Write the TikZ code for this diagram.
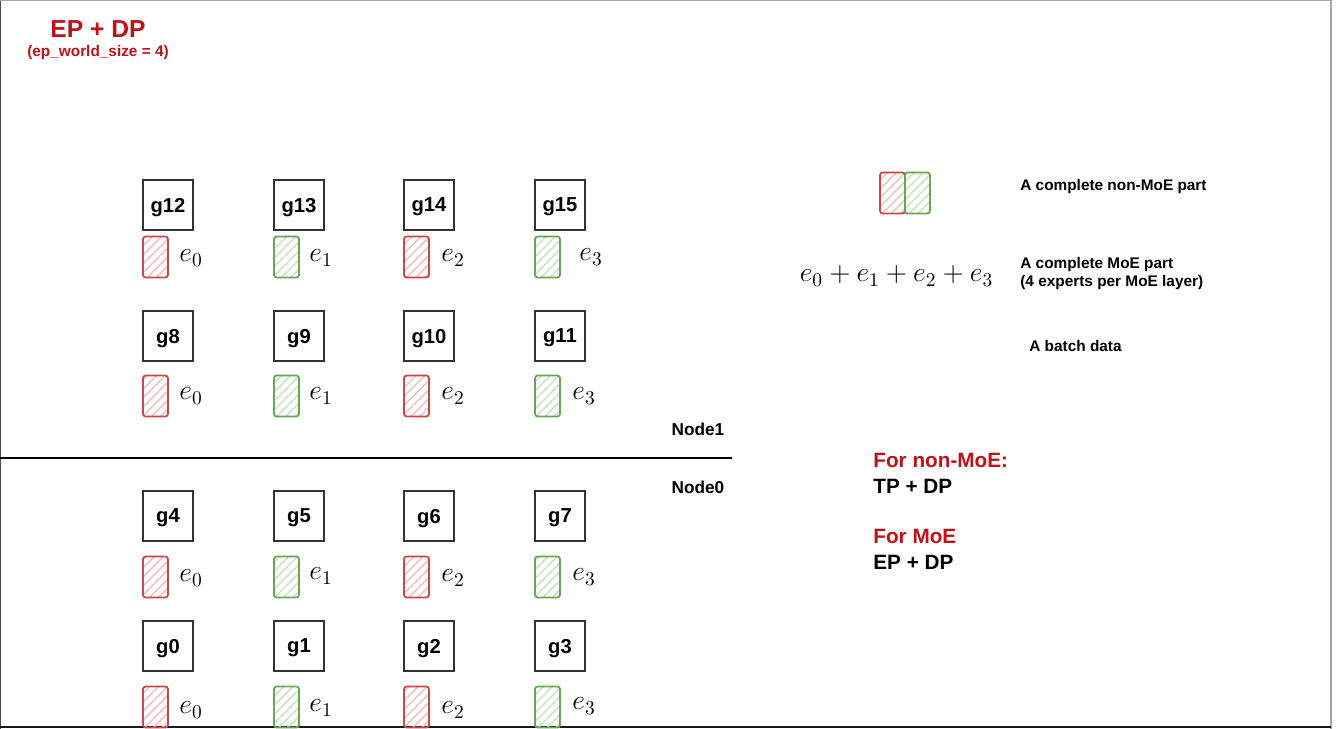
\RequirePackage{fix-cm}
\documentclass[tikz,border=0pt]{standalone}
\usepackage{amsmath}
\usepackage{fontspec}
\usepackage{tikz}
\usetikzlibrary{patterns.meta}

\newfontfamily\helv{Liberation Sans}
\definecolor{ttlred}{RGB}{190,18,24}
\definecolor{exred}{RGB}{200,72,72}
\definecolor{exgreen}{RGB}{100,168,80}

\tikzset{
	gpu/.style = {draw = black!80, line width = .6pt, minimum size = 1cm, inner sep = 0pt,
		text depth = 0pt, font = \helv\bfseries\fontsize{11.5}{13}\selectfont},
	exp/.style = {line width = 1pt, rounded corners = 1.5pt, minimum width = .5cm,
		minimum height = .82cm, inner sep = 0pt,
		pattern = {Lines[angle = 45, distance = 3.6pt, line width = .9pt]}},
	expred/.style = {exp, draw = exred, pattern color = exred!32},
	expgreen/.style = {exp, draw = exgreen, pattern color = exgreen!32},
	elab/.style = {font = \fontsize{15.8}{18}\selectfont, inner sep = 0pt},
	legend/.style = {anchor = west, align = left, inner sep = 0pt,
		font = \helv\bfseries\fontsize{8.75}{10.5}\selectfont},
	plan/.style = {anchor = west, align = left, inner sep = 0pt,
		font = \helv\bfseries\fontsize{11.8}{14}\selectfont}
}

\begin{document}
\begin{tikzpicture}
	\useasboundingbox (0,0) rectangle (26.72,14.58);
	% frame
	\draw [black!70, line width = .8pt] (0,0) -- (0,14.58);
	\draw [black!35, line width = .6pt] (0,14.57) -- (26.62,14.57);
	\draw [black!35, line width = .8pt] (26.62,14.58) -- (26.62,0);
	\draw [black!90, line width = 1.2pt] (0,.04) -- (26.62,.04);

	% title
	\node [font = \helv\bfseries\fontsize{14}{16}\selectfont, text = ttlred] (title) at (1.96,14.0) {EP + DP};
	\node [font = \helv\bfseries\fontsize{8.75}{10}\selectfont, text = ttlred] (subtitle) at (1.96,13.53) {(ep\_world\_size = 4)};

	% Node1
	\node [gpu] (g12) at (3.36,10.48) {g12};
	\node [gpu] (g13) at (5.98,10.48) {g13};
	\node [gpu] (g14) at (8.58,10.48) {g14};
	\node [gpu] (g15) at (11.2,10.48) {g15};
	\node [expred] (ex12) at (3.11,9.44) {};
	\node [expgreen] (ex13) at (5.73,9.44) {};
	\node [expred] (ex14) at (8.33,9.44) {};
	\node [expgreen] (ex15) at (10.95,9.44) {};
	\node [elab] (lb12) at (3.82,9.42) {$e_0$};
	\node [elab] (lb13) at (6.42,9.42) {$e_1$};
	\node [elab] (lb14) at (9.06,9.42) {$e_2$};
	\node [elab] (lb15) at (11.82,9.44) {$e_3$};

	\node [gpu] (g8) at (3.36,7.86) {g8};
	\node [gpu] (g9) at (5.98,7.86) {g9};
	\node [gpu] (g10) at (8.58,7.86) {g10};
	\node [gpu] (g11) at (11.2,7.86) {g11};
	\node [expred] (ex8) at (3.11,6.66) {};
	\node [expgreen] (ex9) at (5.73,6.66) {};
	\node [expred] (ex10) at (8.33,6.66) {};
	\node [expgreen] (ex11) at (10.95,6.66) {};
	\node [elab] (lb8) at (3.82,6.66) {$e_0$};
	\node [elab] (lb9) at (6.42,6.66) {$e_1$};
	\node [elab] (lb10) at (9.06,6.66) {$e_2$};
	\node [elab] (lb11) at (11.68,6.66) {$e_3$};

	% node border
	\draw [line width = 1.1pt] (0,5.42) -- (14.64,5.42);
	\node [font = \helv\bfseries\fontsize{9.8}{12}\selectfont] (node1) at (13.96,6.0) {Node1};
	\node [font = \helv\bfseries\fontsize{9.8}{12}\selectfont] (node0) at (13.96,4.84) {Node0};

	% Node0
	\node [gpu] (g4) at (3.36,4.26) {g4};
	\node [gpu] (g5) at (5.98,4.26) {g5};
	\node [gpu] (g6) at (8.58,4.26) {g6};
	\node [gpu] (g7) at (11.2,4.26) {g7};
	\node [expred] (ex4) at (3.11,3.04) {};
	\node [expgreen] (ex5) at (5.73,3.04) {};
	\node [expred] (ex6) at (8.33,3.04) {};
	\node [expgreen] (ex7) at (10.95,3.04) {};
	\node [elab] (lb4) at (3.82,3.02) {$e_0$};
	\node [elab] (lb5) at (6.42,3.06) {$e_1$};
	\node [elab] (lb6) at (9.06,3.02) {$e_2$};
	\node [elab] (lb7) at (11.68,3.04) {$e_3$};

	\node [gpu] (g0) at (3.36,1.66) {g0};
	\node [gpu] (g1) at (5.98,1.66) {g1};
	\node [gpu] (g2) at (8.58,1.66) {g2};
	\node [gpu] (g3) at (11.2,1.66) {g3};
	\node [expred] (ex0) at (3.11,.44) {};
	\node [expgreen] (ex1) at (5.73,.44) {};
	\node [expred] (ex2) at (8.33,.44) {};
	\node [expgreen] (ex3) at (10.95,.44) {};
	\node [elab] (lb0) at (3.82,.38) {$e_0$};
	\node [elab] (lb1) at (6.42,.42) {$e_1$};
	\node [elab] (lb2) at (9.06,.38) {$e_2$};
	\node [elab] (lb3) at (11.68,.46) {$e_3$};

	% legend
	\node [expred] (nonred) at (17.85,10.72) {};
	\node [expgreen] (nongreen) at (18.35,10.72) {};
	\node [legend] (nonmoe) at (20.4,10.84) {A complete non-MoE part};
	\node [elab] (sum) at (17.93,9.06) {$e_0 + e_1 + e_2 + e_3$};
	\node [legend] (moe) at (20.4,9.11) {A complete MoE part\\(4 experts per MoE layer)};
	\node [legend] (batch) at (20.58,7.66) {A batch data};

	% strategy
	\node [plan, text = ttlred] (fornon) at (17.46,5.38) {For non-MoE:};
	\node [plan] (tpdp) at (17.46,4.86) {TP + DP};
	\node [plan, text = ttlred] (formoe) at (17.46,3.86) {For MoE};
	\node [plan] (epdp) at (17.46,3.34) {EP + DP};

\end{tikzpicture}
\end{document}
